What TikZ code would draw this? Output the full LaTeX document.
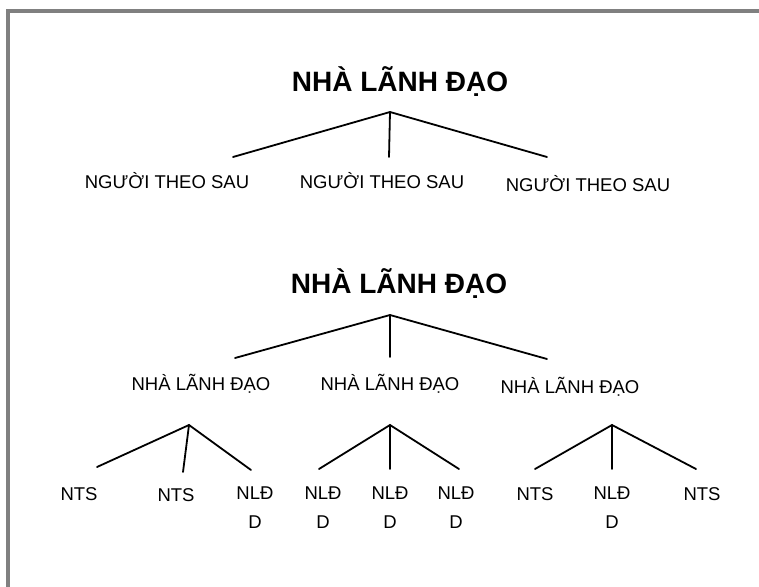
\documentclass[tikz,border=0pt]{standalone}
\usepackage{fontspec}
\setmainfont{Liberation Sans}
\begin{document}
\begin{tikzpicture}[x=1pt,y=-1pt,
  titletext/.style={font=\fontsize{28}{32}\selectfont\bfseries, inner sep=0pt, anchor=base},
  lbl/.style={font=\fontsize{18.5}{29}\selectfont, inner sep=0pt, anchor=base},
  leaf/.style={font=\fontsize{18.5}{29}\selectfont, inner sep=0pt, anchor=north, align=center},
  branch/.style={line width=1.8pt, line cap=round},
  frameline/.style={draw=black!50, line width=4pt}]
\useasboundingbox (0,0) rectangle (759,586);
\fill[white] (0,0) rectangle (759,586);
\draw[frameline] (7.5,590) -- (7.5,11.5) -- (762,11.5);

% ---- Tree 1 ----
\node[titletext] (T1) at (400,91) {NHÀ LÃNH ĐẠO};
\coordinate (a1) at (390,112);
\coordinate (e11) at (233,157);
\coordinate (e12) at (389,157);
\coordinate (e13) at (547,157);
\node[lbl] (F1) at (167,188) {NGƯỜI THEO SAU};
\node[lbl] (F2) at (382,188) {NGƯỜI THEO SAU};
\node[lbl] (F3) at (588,191) {NGƯỜI THEO SAU};
\draw[branch] (e11) -- (a1) -- (e13);
\draw[branch] (a1) -- (e12);

% ---- Tree 2 ----
\node[titletext] (T2) at (399,293) {NHÀ LÃNH ĐẠO};
\coordinate (a2) at (390,315);
\coordinate (e21) at (235,358);
\coordinate (e22) at (390,357);
\coordinate (e23) at (547,359);
\draw[branch] (e21) -- (a2) -- (e23);
\draw[branch] (a2) -- (e22);
\node[lbl] (L1) at (201,390) {NHÀ LÃNH ĐẠO};
\node[lbl] (L2) at (390,390) {NHÀ LÃNH ĐẠO};
\node[lbl] (L3) at (570,393) {NHÀ LÃNH ĐẠO};

% ---- sub-trees ----
\coordinate (b1) at (189,425);
\coordinate (b11) at (97,467);
\coordinate (b12) at (183,472);
\coordinate (b13) at (251,470);
\draw[branch] (b11) -- (b1) -- (b13);
\draw[branch] (b1) -- (b12);

\coordinate (b2) at (390,425);
\coordinate (b21) at (319,469);
\coordinate (b22) at (390,469);
\coordinate (b23) at (459,469);
\draw[branch] (b21) -- (b2) -- (b23);
\draw[branch] (b2) -- (b22);

\coordinate (b3) at (612,425);
\coordinate (b31) at (535,469);
\coordinate (b32) at (612,469);
\coordinate (b33) at (696,469);
\draw[branch] (b31) -- (b3) -- (b33);
\draw[branch] (b3) -- (b32);

\node[leaf] (n1) at (79,487) {NTS};
\node[leaf] (n2) at (176,488) {NTS};
\node[leaf] (n3) at (255,487) {NLĐ\\D};
\node[leaf] (n4) at (323,487) {NLĐ\\D};
\node[leaf] (n5) at (390,487) {NLĐ\\D};
\node[leaf] (n6) at (456,487) {NLĐ\\D};
\node[leaf] (n7) at (535,487) {NTS};
\node[leaf] (n8) at (612,487) {NLĐ\\D};
\node[leaf] (n9) at (702,487) {NTS};
\end{tikzpicture}
\end{document}
